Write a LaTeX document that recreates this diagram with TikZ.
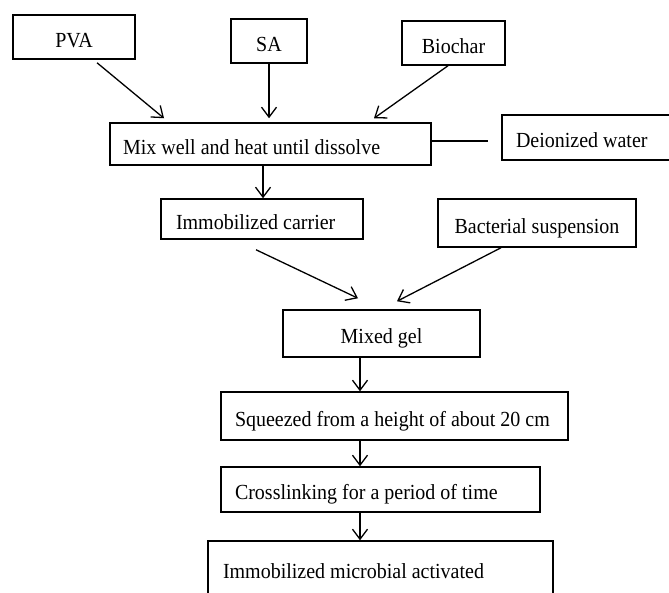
\documentclass[tikz,border=0pt]{standalone}
\usepackage{fontspec}
\setmainfont{Liberation Serif}[FakeStretch=0.93]
\usetikzlibrary{arrows.meta,calc}
\begin{document}
\begin{tikzpicture}[x=1pt,y=-1pt,
  box/.style={draw, line width=1.5pt, rectangle, inner sep=0pt,
              text height=22pt, text depth=2pt,
              font=\fontsize{21.5}{25}\selectfont},
  lbox/.style={box, inner xsep=#1},
  arr/.style={line width=1.3pt,
              -{Straight Barb[length=10pt,width=15pt,line width=1.3pt]}},
  link/.style={line width=1.3pt}]
\useasboundingbox (0,0) rectangle (669,592);

% ingredient boxes
\node[box, minimum width=122pt, minimum height=44pt] (pva) at (74,37) {PVA};
\node[box, minimum width=76pt,  minimum height=44pt] (sa)  at (269,41) {SA};
\node[box, minimum width=103pt, minimum height=44pt] (bio) at (453.5,43) {Biochar};

% process steps (left-aligned labels inside fixed-width boxes)
\node[lbox=13pt, minimum height=42pt] (mix) at (270.5,144)
  {\makebox[295pt][l]{Mix well and heat until dissolve}};
\node[lbox=14pt, minimum height=45pt] (dw)  at (591,137.5)
  {\makebox[150pt][l]{Deionized water}};
\node[lbox=15pt, minimum height=40pt] (car) at (262,219)
  {\makebox[172pt][l]{Immobilized carrier}};
\node[box, minimum width=198pt, minimum height=48pt] (bac) at (537,223) {Bacterial suspension};
\node[box, minimum width=197pt, minimum height=47pt] (gel) at (381.5,333.5) {Mixed gel};
\node[lbox=14pt, minimum height=48pt] (sq)  at (394.5,416)
  {\makebox[319pt][l]{Squeezed from a height of about 20 cm}};
\node[lbox=14pt, minimum height=45pt] (cl)  at (380.5,489.5)
  {\makebox[291pt][l]{Crosslinking for a period of time}};
\node[lbox=15pt, minimum height=54pt] (imm) at (380.5,568)
  {\makebox[315pt][l]{Immobilized microbial activated}};

% connectors
\draw[arr] ([shift={(23,3)}]pva.south) -- ([shift={(-106.5,-4)}]mix.north);
\draw[arr] (sa.south) -- ([shift={(-1.5,-4)}]mix.north);
\draw[arr] ([shift={(-5.5,0)}]bio.south) -- ([shift={(103.5,-4)}]mix.north);

\coordinate (dwend) at (488,141);
\draw[link] (mix.east |- dwend) -- (dwend);

\draw[arr] ([shift={(-7.5,0)}]mix.south) coordinate (m1) -- (m1 |- car.north);

\draw[arr] ([shift={(-6,10)}]car.south) -- ([shift={(-23.5,-11)}]gel.north);
\draw[arr] ([shift={(-36,0)}]bac.south) -- ([shift={(15.5,-8)}]gel.north);

\coordinate (col) at (360,0);
\draw[arr] (gel.south -| col) -- (sq.north -| col);
\draw[arr] (sq.south -| col) -- (cl.north -| col);
\draw[arr] (cl.south -| col) -- (imm.north -| col);
\end{tikzpicture}
\end{document}
